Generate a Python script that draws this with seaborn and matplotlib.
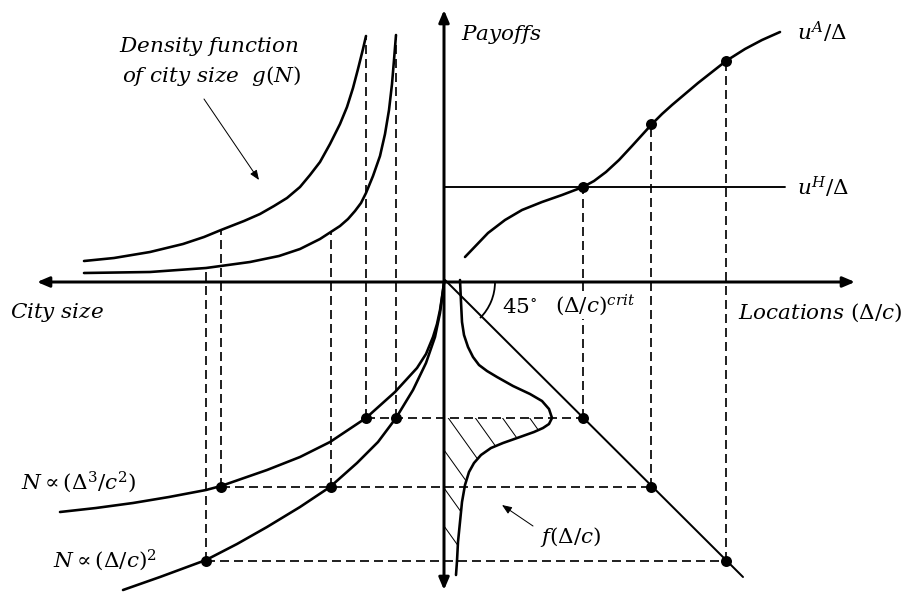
import numpy as np
import matplotlib.pyplot as plt
from matplotlib.patches import Arc
import seaborn as sns

sns.set_style("white")
plt.rcParams["mathtext.fontset"] = "dejavuserif"
plt.rcParams["text.color"] = "black"
plt.rcParams["lines.scale_dashes"] = False

DPI = 180
PT = 72 / DPI  # points per output pixel

# origin = where the two axes cross, one unit = one pixel of the picture
# top-left: density of city size g(N)
g_cube_x = [-360, -330, -294, -261, -240, -223, -200, -184, -170, -157, -144, -134, -124, -114, -104,
            -97, -91, -86, -81, -78]
g_cube_y = [21, 24, 30, 38, 45, 52, 61, 68, 76, 84, 95, 107, 120, 138, 158, 175, 194, 213, 233, 246]
g_sq_x = [-360, -294, -238, -194, -165, -144, -124, -104, -96, -89, -83, -78, -71, -64, -59, -55,
          -52, -50, -48]
g_sq_y = [9, 10, 14, 20, 26, 33, 43, 56, 63, 71, 79, 89, 106, 126, 148, 172, 198, 222, 247]

# bottom-left: city size against location
n_cube_x = [-384, -348, -311, -275, -238, -223, -177, -144, -114, -78, -49, -27, -18, -11, -7, -4, -2, 0]
n_cube_y = [-230, -226, -221, -215, -208, -204, -188, -175, -160, -136, -110, -86, -72, -55, -42, -28,
            -15, -1]
n_sq_x = [-321, -284, -238, -207, -177, -144, -114, -87, -66, -48, -31, -18, -9, -4, -2, 0]
n_sq_y = [-308, -295, -278, -262, -245, -225, -205, -181, -160, -136, -108, -81, -55, -31, -16, -1]

# top-right: payoffs
ua_x = [21, 44, 61, 78, 98, 118, 139, 150, 162, 175, 188, 198, 208, 218, 228, 241, 254, 268, 282,
        301, 318, 336]
ua_y = [25, 49, 62, 72, 80, 87, 95, 101, 110, 122, 136, 147, 158, 168, 177, 188, 199, 210, 221,
        233, 242, 250]
uh_level = 95
uh_end = 341

# bottom-right: f(Δ/c) drawn sideways, and the 45 degree line
f_x = [16, 17, 18, 20, 24, 29, 35, 43, 53, 69, 86, 98, 105, 108, 105, 99, 90, 76, 59, 47, 37, 30, 25,
       21, 18, 16, 14, 13, 12]
f_y = [2, -20, -40, -53, -65, -75, -83, -89, -95, -104, -112, -119, -127, -136, -142, -146, -150, -155,
       -161, -166, -173, -181, -190, -203, -220, -240, -260, -279, -293]
diag_x = [1, 299]
diag_y = [2, -295]

# the three marked locations and matching values
locs = [139, 207, 282]
loc_depth = [-136, -205, -279]
payoff_at_loc = [95, 158, 221]
n_cube_at_loc = [-78, -223]
n_sq_at_loc = [-48, -113, -238]
g_cube_at_n = [246, 52]
g_sq_at_n = [247, 50, 14]

fig = plt.figure(figsize=(908 / DPI, 592 / DPI), dpi=DPI)
ax = fig.add_axes([0, 0, 1, 1])
ax.set_xlim(-444, 464)
ax.set_ylim(-310, 282)
ax.axis("off")

ink = "black"
dash = (0, (9 * PT, 5 * PT))
dash_lw = 1.7 * PT

# axes with arrow heads
axis_arrow = dict(arrowstyle="<|-|>,head_length=0.4,head_width=0.17", lw=3 * PT,
                  color=ink, shrinkA=0, shrinkB=0, mutation_scale=25 * PT)
ax.annotate("", xy=(411, 0), xytext=(-407, 0), arrowprops=axis_arrow)
ax.annotate("", xy=(0, 272), xytext=(0, -308), arrowprops=axis_arrow)

# dashed guides
for i, x in enumerate(locs):
    ax.vlines(x, loc_depth[i], payoff_at_loc[i], colors=ink, lw=dash_lw, linestyles=dash)
    left = min(n_sq_at_loc[i], n_cube_at_loc[i] if i < len(n_cube_at_loc) else 0)
    ax.hlines(loc_depth[i], left, x, colors=ink, lw=dash_lw, linestyles=dash)
for i, n in enumerate(n_cube_at_loc):
    ax.vlines(n, loc_depth[i], g_cube_at_n[i], colors=ink, lw=dash_lw, linestyles=dash)
for i, n in enumerate(n_sq_at_loc):
    ax.vlines(n, loc_depth[i], g_sq_at_n[i], colors=ink, lw=dash_lw, linestyles=dash)

# curves
for xs, ys in [(g_cube_x, g_cube_y), (g_sq_x, g_sq_y), (n_cube_x, n_cube_y),
               (n_sq_x, n_sq_y), (ua_x, ua_y), (f_x, f_y)]:
    sns.lineplot(x=xs, y=ys, color=ink, lw=2.6 * PT, sort=False, estimator=None, ax=ax)
sns.lineplot(x=[0, uh_end], y=[uh_level, uh_level], color=ink, lw=1.9 * PT, ax=ax)
sns.lineplot(x=diag_x, y=diag_y, color=ink, lw=2.0 * PT, ax=ax)
ax.add_patch(Arc((0, 0), 102, 102, theta1=-45, theta2=0, lw=1.8 * PT, color=ink))

# hatched mass between the first and last marked locations
fy = np.array(f_y)
fx = np.array(f_x)
sel = (fy <= loc_depth[0]) & (fy >= loc_depth[2])
mass = ax.fill_betweenx(fy[sel], 0, fx[sel], facecolor="none", lw=0)
hatch_slope, hatch_gap = 1.4, 38
for c in np.arange(-16, loc_depth[2] - hatch_gap, -hatch_gap):
    (ln,) = ax.plot([0, 120], [c, c - hatch_slope * 120], color=ink, lw=1.0 * PT)
    ln.set_clip_path(mass.get_paths()[0], ax.transData)

# dots
dot_x = locs + locs + n_cube_at_loc + n_sq_at_loc
dot_y = payoff_at_loc + loc_depth + loc_depth[:2] + loc_depth
sns.scatterplot(x=dot_x, y=dot_y, s=(11 * PT) ** 2, color=ink, linewidth=0, zorder=5, ax=ax)

fs = 21.5 * PT
ax.text(-235, 235, r"$Density\ function$", fontsize=fs, ha="center", va="center")
ax.text(-232, 206, r"$of\ city\ size\ \ g(N)$", fontsize=fs, ha="center", va="center")
ax.text(17, 247, r"$Payoffs$", fontsize=fs, ha="left", va="center")
ax.text(353, 250, r"$u^A/\Delta$", fontsize=fs, ha="left", va="center")
ax.text(353, 95, r"$u^H/\Delta$", fontsize=fs, ha="left", va="center")
ax.text(-434, -31, r"$City\ size$", fontsize=fs, ha="left", va="center")
ax.text(58, -25, r"$45^{\circ}$", fontsize=fs, ha="left", va="center")
ax.text(111, -23, r"$(\Delta/c)^{crit}$", fontsize=fs, ha="left", va="center",
        bbox=dict(facecolor="white", edgecolor="none", pad=0.5))
ax.text(294, -31, r"$Locations\ (\Delta/c)$", fontsize=fs, ha="left", va="center")
ax.text(-423, -200, r"$N\propto(\Delta^3/c^2)$", fontsize=fs, ha="left", va="center")
ax.text(-391, -278, r"$N\propto(\Delta/c)^2$", fontsize=fs, ha="left", va="center")
ax.text(96, -255, r"$f(\Delta/c)$", fontsize=fs, ha="left", va="center")

thin_arrow = dict(arrowstyle="-|>,head_length=0.45,head_width=0.18", lw=1.0 * PT, color=ink,
                  shrinkA=0, shrinkB=0, mutation_scale=18 * PT)
ax.annotate("", xy=(-185, 102), xytext=(-240, 183), arrowprops=thin_arrow)
ax.annotate("", xy=(58, -223), xytext=(89, -244), arrowprops=thin_arrow)

fig.savefig("out.png", dpi=DPI)
